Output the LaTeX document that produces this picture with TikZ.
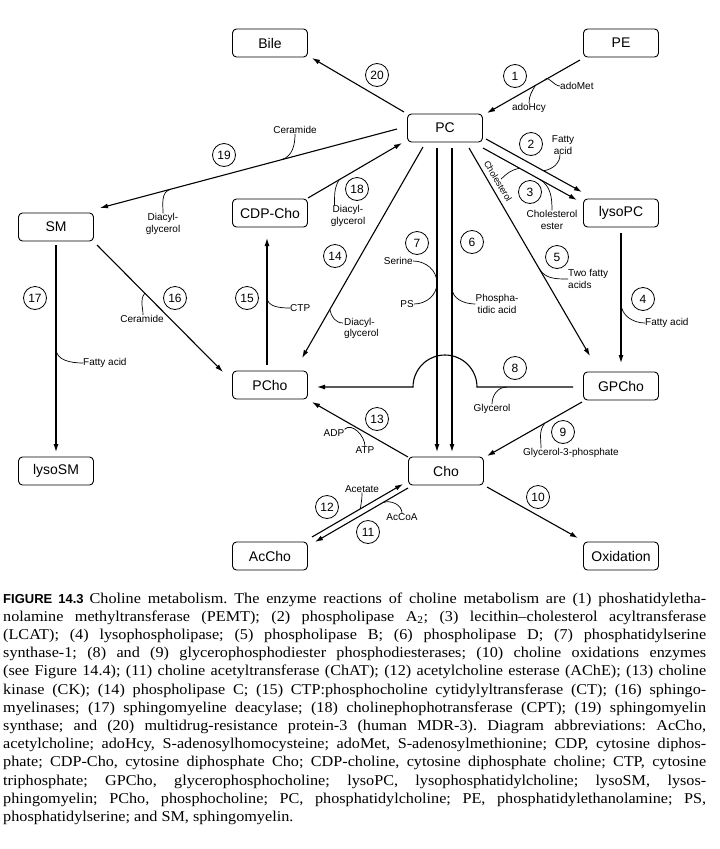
\documentclass[tikz,border=0pt]{standalone}
\usepackage{fontspec}
\setmainfont{Liberation Serif}
\newfontfamily\capfont[FakeStretch=1.08,Ligatures=TeX]{Liberation Serif}
\newfontfamily\lblfont{Liberation Sans}
\usetikzlibrary{arrows.meta,calc}
\tikzset{
  box/.style={draw, rounded corners=4pt, minimum width=75pt, minimum height=28pt, inner sep=0pt, line width=0.9pt, font=\lblfont\fontsize{14}{14}\selectfont},
  num/.style={draw, circle, minimum size=23pt, inner sep=0pt, line width=0.8pt, font=\lblfont\fontsize{12}{12}\selectfont},
  lbl/.style={inner sep=0pt, font=\lblfont\fontsize{10}{11.5}\selectfont, align=center},
  arr/.style={line width=1.1pt, -{Latex[length=8pt,width=5pt]}},
  hook/.style={line width=0.7pt},
}
\begin{document}
\begin{tikzpicture}[x=1pt,y=-1pt]
\fill[white] (0,0) rectangle (720,849);
\useasboundingbox (0,0) rectangle (720,849);
% boxes
\node[box] (Bile) at (270,43) {Bile};
\node[box] (PE) at (621,43) {PE};
\node[box] (PC) at (445,128) {PC};
\node[box] (SM) at (56,227) {SM};
\node[box] (CDP) at (270,213) {CDP-Cho};
\node[box] (lysoPC) at (621,213) {lysoPC};
\node[box] (PCho) at (270,385) {PCho};
\node[box] (GPCho) at (621,386) {GPCho};
\node[box] (lysoSM) at (56,471) {lysoSM};
\node[box] (Cho) at (446,471) {Cho};
\node[box] (AcCho) at (270,556) {AcCho};
\node[box] (Ox) at (621,556) {Oxidation};
% labels
\node[lbl, anchor=west] (adoMet) at (560,86) {adoMet};
\node[lbl] (adoHcy) at (529,108) {adoHcy};
\node[lbl] (fa2) at (563,145) {Fatty\\acid};
\node[lbl, rotate=-59, font=\lblfont\fontsize{9}{10}\selectfont] (chol) at (498,181) {Cholesterol};
\node[lbl] (chest) at (552,220) {Cholesterol\\ester};
\node[lbl, align=left, anchor=west] (tfa) at (568,279) {Two fatty\\acids};
\node[lbl, anchor=east] (serine) at (413,261) {Serine};
\node[lbl, anchor=east] (ps) at (414,304) {PS};
\node[lbl] (pa) at (497,304) {Phospha-\\tidic acid};
\node[lbl] (gly) at (492,409) {Glycerol};
\node[lbl] (g3p) at (571,453) {Glycerol-3-phosphate};
\node[lbl, anchor=west] (fa4) at (645,323) {Fatty acid};
\node[lbl] (adp) at (334,433) {ADP};
\node[lbl] (atp) at (365,450) {ATP};
\node[lbl] (acet) at (362,489) {Acetate};
\node[lbl] (accoa) at (402,517) {AcCoA};
\node[lbl] (cer19) at (295,130) {Ceramide};
\node[lbl] (dag19) at (163,224) {Diacyl-\\glycerol};
\node[lbl] (dag18) at (348,216) {Diacyl-\\glycerol};
\node[lbl, align=left, anchor=north west] (dag14) at (344,318) {Diacyl-\\glycerol};
\node[lbl, anchor=west] (ctp) at (290,308) {CTP};
\node[lbl] (cer16) at (142,319) {Ceramide};
\node[lbl, anchor=west] (fa17) at (83,363) {Fatty acid};
% arrows
\draw[arr] ($(PC)+(-41,-16)$) -- ($(Bile)+(42,15)$);
\draw[arr] ($(PE)+(-41,17)$) -- coordinate[pos=0.38](hMet) coordinate[pos=0.48](hHcy) ($(PC)+(42,-15)$);
\draw[hook] (hMet) to[out=60,in=180] (adoMet.west);
\draw[hook] (hHcy) to[out=-120,in=90] (adoHcy.north);
\draw[arr] ($(PC)+(41,11)$) -- coordinate[pos=0.6](h2) ($(lysoPC)+(-39,-21)$);
\draw[hook] (h2) to[out=10,in=-90] ($(fa2.south)+(-3,0)$);
\draw[arr] ($(PC)+(38,20)$) -- coordinate[pos=0.39](h3a) coordinate[pos=0.6](h3b) ($(lysoPC)+(-44,-13)$);
\draw[hook] (h3a) to[out=190,in=45] (chol.north);
\draw[hook] (h3b) to[out=-30,in=90] (chest.north);
\draw[arr] ($(PC)+(24,20)$) -- coordinate[pos=0.58](h5) ($(GPCho)+(-31,-30)$);
\draw[hook] (h5) to[out=-60,in=180] (tfa.west);
\draw[arr] ($(PC)+(-8,20)$) -- coordinate[pos=0.444](h7) ($(Cho)+(-9,-19)$);
\draw[arr] ($(PC)+(7,20)$) -- coordinate[pos=0.46](h6) ($(Cho)+(6,-19)$);
\draw[hook] (serine.east) to[out=0,in=90] (h7) to[out=-90,in=0] (ps.east);
\draw[hook] (h6) to[out=-90,in=180] (pa.west);
\draw[arr] ($(GPCho)+(-48,1)$) -- coordinate[pos=0.69](h8) ($(PC |- GPCho)+(32,1)$) arc[start angle=0,end angle=180,radius=32pt] -- ($(PCho)+(47,2)$);
\draw[hook] (h8) to[out=180,in=90] (gly.north);
\draw[arr] ($(GPCho)+(-39,16)$) -- coordinate[pos=0.39](h9) ($(Cho)+(41,-15)$);
\draw[hook] (h9) to[out=-130,in=90] ($(g3p.north west)+(18,0)$);
\draw[arr] ($(lysoPC)+(0,20)$) -- coordinate[pos=0.54](h4) ($(GPCho)+(0,-23)$);
\draw[hook] (h4) to[out=-90,in=180] (fa4.west);
\draw[arr] ($(Cho)+(-38,-14)$) -- ($(PCho)+(42,17)$);
\draw[hook] (adp.north east) to[out=45,in=90] (atp.north);
\draw[arr] ($(Cho)+(41,16)$) -- ($(Ox)+(-43,-18)$);
\draw[arr] ($(AcCho)+(42,-19)$) -- coordinate[pos=0.53](h12) ($(Cho)+(-43,13)$);
\draw[hook] (h12) to[out=80,in=-90] (acet.south);
\draw[arr] ($(Cho)+(-38,17)$) -- coordinate[pos=0.27](h11) ($(AcCho)+(45,-14)$);
\draw[hook] (h11) to[out=20,in=90] (accoa.north);
\draw[arr] ($(PC)+(-48,1)$) -- coordinate[pos=0.387](h19a) coordinate[pos=0.764](h19b) ($(SM)+(44,-19)$);
\draw[hook] (cer19.south) to[out=-90,in=20] (h19a);
\draw[hook] (h19b) to[out=-160,in=90] (dag19.north);
\draw[arr] ($(CDP)+(38,-15)$) -- coordinate[pos=0.33](h18) ($(PC)+(-43,15)$);
\draw[hook] (h18) to[out=-120,in=90] ($(dag18.north west)+(4,0)$);
\draw[arr] ($(PC)+(-22,19)$) -- coordinate[pos=0.77](h14) ($(PCho)+(32,-27)$);
\draw[hook] (h14) to[out=-80,in=180] ($(dag14.north west)+(-1,5)$);
\draw[arr] ($(PCho)+(-3,-20)$) -- coordinate[pos=0.535](h15) ($(CDP)+(-3,25)$);
\draw[hook] (h15) to[out=-90,in=180] (ctp.west);
\draw[arr] ($(SM)+(41,18)$) -- coordinate[pos=0.38](h16) ($(PCho)+(-47,-13)$);
\draw[hook] (h16) to[out=-130,in=90] ($(cer16.north)+(1,0)$);
\draw[arr] ($(SM)+(0,18)$) -- coordinate[pos=0.5](h17) ($(lysoSM)+(0,-19)$);
\draw[hook] (h17) to[out=-90,in=180] (fa17.west);
% numbers
\node[num] (n1) at (515,76) {1};
\node[num] (n2) at (531,144) {2};
\node[num] (n3) at (530,192) {3};
\node[num] (n4) at (643,299) {4};
\node[num] (n5) at (557,257) {5};
\node[num] (n6) at (472,242) {6};
\node[num] (n7) at (417,243) {7};
\node[num] (n8) at (515,368) {8};
\node[num] (n9) at (563,432) {9};
\node[num] (n10) at (538,497) {10};
\node[num] (n11) at (368,532) {11};
\node[num] (n12) at (327,507) {12};
\node[num] (n13) at (377,419) {13};
\node[num] (n14) at (335,256) {14};
\node[num] (n15) at (247,298) {15};
\node[num] (n16) at (175,298) {16};
\node[num] (n17) at (35,298) {17};
\node[num] (n18) at (357,189) {18};
\node[num] (n19) at (224,155) {19};
\node[num] (n20) at (377,75) {20};
% caption
\node[anchor=base west, inner sep=0pt, text width=703pt, align=justify, font=\capfont\fontsize{15}{18.2}\selectfont\frenchspacing] (cap) at (3,603) {\noindent
\makebox[703pt][s]{{\lblfont\bfseries\fontsize{13}{13}\selectfont FIGURE 14.3}\hspace{6pt}Choline metabolism. The enzyme reactions of choline metabolism are (1) phoshatidyletha-}\\
\makebox[703pt][s]{nolamine methyltransferase (PEMT); (2) phospholipase A\textsubscript{2}; (3) lecithin–cholesterol acyltransferase}\\
\makebox[703pt][s]{(LCAT); (4) lysophospholipase; (5) phospholipase B; (6) phospholipase D; (7) phosphatidylserine}\\
\makebox[703pt][s]{synthase-1; (8) and (9) glycerophosphodiester phosphodiesterases; (10) choline oxidations enzymes}\\
\makebox[703pt][s]{(see Figure 14.4); (11) choline acetyltransferase (ChAT); (12) acetylcholine esterase (AChE); (13) choline}\\
\makebox[703pt][s]{kinase (CK); (14) phospholipase C; (15) CTP:phosphocholine cytidylyltransferase (CT); (16) sphingo-}\\
\makebox[703pt][s]{myelinases; (17) sphingomyeline deacylase; (18) cholinephophotransferase (CPT); (19) sphingomyelin}\\
\makebox[703pt][s]{synthase; and (20) multidrug-resistance protein-3 (human MDR-3). Diagram abbreviations: AcCho,}\\
\makebox[703pt][s]{acetylcholine; adoHcy, S-adenosylhomocysteine; adoMet, S-adenosylmethionine; CDP, cytosine diphos-}\\
\makebox[703pt][s]{phate; CDP-Cho, cytosine diphosphate Cho; CDP-choline, cytosine diphosphate choline; CTP, cytosine}\\
\makebox[703pt][s]{triphosphate; GPCho, glycerophosphocholine; lysoPC, lysophosphatidylcholine; lysoSM, lysos-}\\
\makebox[703pt][s]{phingomyelin; PCho, phosphocholine; PC, phosphatidylcholine; PE, phosphatidylethanolamine; PS,}\\
phosphatidylserine; and SM, sphingomyelin.};
\end{tikzpicture}
\end{document}
